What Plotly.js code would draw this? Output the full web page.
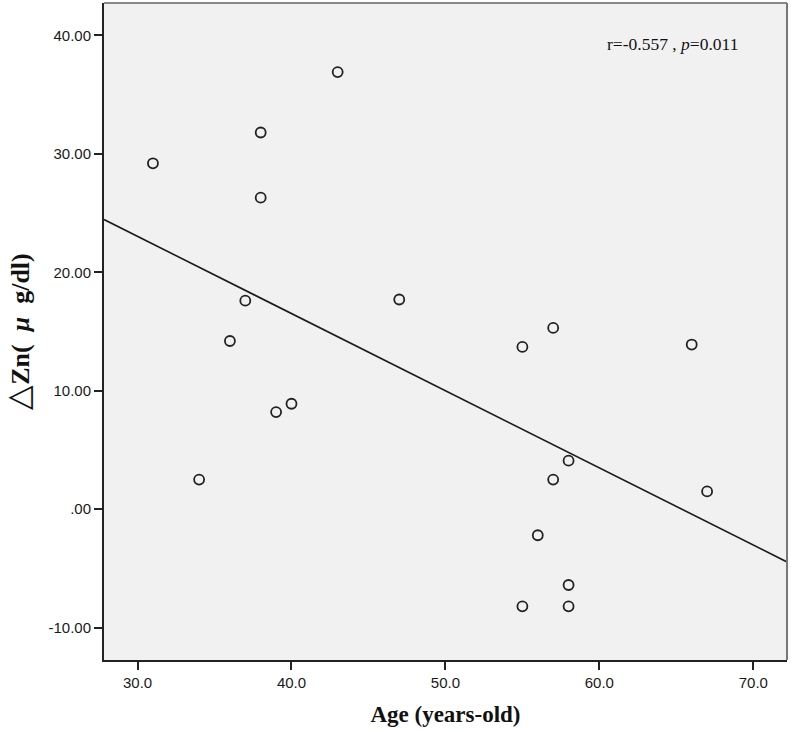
<!DOCTYPE html>
<html>
<head>
<meta charset="utf-8">
<script src="https://cdn.plot.ly/plotly-3.0.1.min.js"></script>
<style>html,body{margin:0;padding:0;background:#fff;}#chart{width:791px;height:732px;}</style>
</head>
<body>
<div id="chart"></div>
<script>
// Data
const ages = [31, 34, 36, 37, 38, 38, 39, 40, 43, 47, 55, 55, 56, 57, 57, 58, 58, 58, 66, 67];
const deltaZn = [29.2, 2.5, 14.2, 17.6, 31.8, 26.3, 8.2, 8.9, 36.9, 17.7, 13.7, -8.2, -2.2, 15.3, 2.5, 4.1, -6.4, -8.2, 13.9, 1.5];
const fitX = [27.82, 72.19];
const fitY = [24.45, -4.45];
const xTickVals = [30, 40, 50, 60, 70];
const xTickText = ["30.0", "40.0", "50.0", "60.0", "70.0"];
const yTickVals = [40, 30, 20, 10, 0, -10];
const yTickText = ["40.00", "30.00", "20.00", "10.00", ".00", "-10.00"];

const traces = [
  {x: fitX, y: fitY, mode: 'lines', type: 'scatter', line: {color: '#1a1a1a', width: 1.6}, hoverinfo: 'skip', showlegend: false},
  {x: ages, y: deltaZn, mode: 'markers', type: 'scatter', showlegend: false,
   marker: {symbol: 'circle-open', size: 10, color: '#222', line: {width: 1.8, color: '#222'}}}
];

const layout = {
  width: 791, height: 732,
  margin: {l: 104, r: 4, t: 3, b: 72},
  paper_bgcolor: '#ffffff',
  plot_bgcolor: '#f1f1f1',
  showlegend: false,
  xaxis: {
    range: [27.82, 72.19], tickvals: xTickVals, ticktext: xTickText,
    showgrid: false, zeroline: false, showline: true, linecolor: '#222', linewidth: 2,
    ticks: 'outside', ticklen: 8, tickwidth: 2, tickcolor: '#222',
    tickfont: {family: 'Liberation Sans, Arial, sans-serif', size: 15, color: '#1a1a1a'},
    title: {text: 'Age (years-old)', standoff: 16, font: {family: 'Liberation Serif, Times New Roman, serif', size: 23, color: '#111', weight: 'bold'}}
  },
  yaxis: {
    range: [-12.73, 42.73], tickvals: yTickVals, ticktext: yTickText,
    showgrid: false, zeroline: false, showline: true, linecolor: '#222', linewidth: 2,
    ticks: 'outside', ticklen: 8, tickwidth: 2, tickcolor: '#222',
    tickfont: {family: 'Liberation Sans, Arial, sans-serif', size: 15, color: '#1a1a1a'},
    title: {text: '<span style="font-size:32px;font-weight:normal">△</span>Zn(  <i>μ</i>  g/dl)', standoff: 12, font: {family: 'Liberation Serif, Times New Roman, serif', size: 26, color: '#111', weight: 'bold'}}
  },
  shapes: [
    {type: 'line', xref: 'paper', yref: 'paper', x0: 0, x1: 1, y0: 1, y1: 1, line: {color: '#888', width: 2}},
    {type: 'line', xref: 'paper', yref: 'paper', x0: 1, x1: 1, y0: 0, y1: 1, line: {color: '#777', width: 2}}
  ],
  annotations: [
    {xref: 'paper', yref: 'paper', x: 0.832, y: 0.937, xanchor: 'center', yanchor: 'middle', showarrow: false,
     text: 'r=-0.557 , <i>p</i>=0.011', font: {family: 'Liberation Serif, Times New Roman, serif', size: 17.5, color: '#111'}}
  ]
};

Plotly.newPlot('chart', traces, layout, {displayModeBar: false, staticPlot: true});
</script>
</body>
</html>
